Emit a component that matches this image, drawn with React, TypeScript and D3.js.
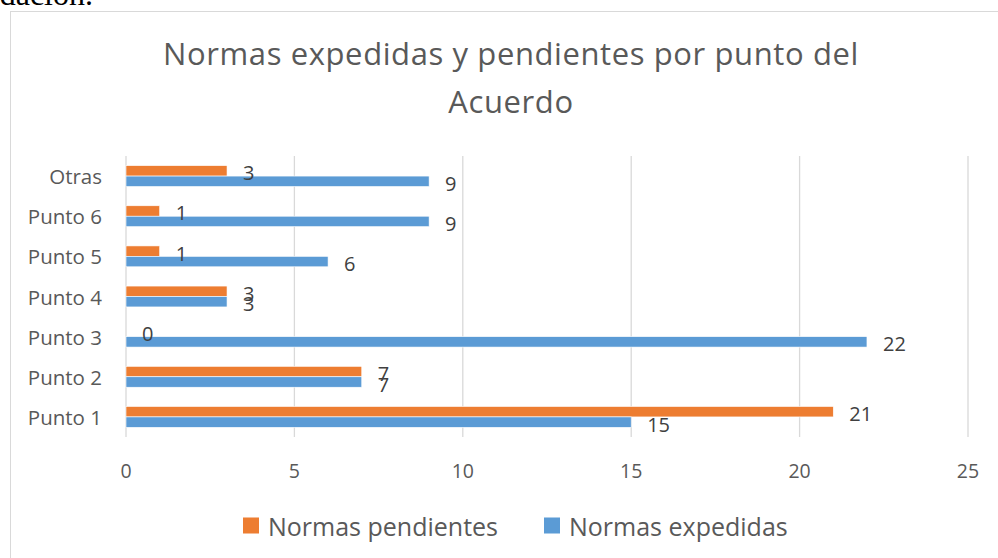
import React from "react";
import * as d3 from "d3";

const categories = ["Punto 1", "Punto 2", "Punto 3", "Punto 4", "Punto 5", "Punto 6", "Otras"];
const expedidas = [15, 7, 22, 3, 6, 9, 9];
const pendientes = [21, 7, 0, 3, 1, 1, 3];
const xTicks = [0, 5, 10, 15, 20, 25];
const seriesNames = ["Normas pendientes", "Normas expedidas"];
const titleLines = ["Normas expedidas y pendientes por punto del", "Acuerdo"];

const ORANGE = "#ED7D31";
const BLUE = "#5B9BD5";
const FONT = "'Open Sans', sans-serif";

export default function App() {
  const W = 998, H = 558;
  const x = d3.scaleLinear().domain([0, 25]).range([126, 968]);
  const y = d3
    .scaleBand<string>()
    .domain([...categories].reverse())
    .range([156, 437])
    .paddingInner(0.48)
    .paddingOuter(0.24);
  const sub = d3.scaleBand<string>().domain(["p", "e"]).range([0, y.bandwidth()]);
  const bh = sub.bandwidth();

  const marks = categories.flatMap((c, i) => [
    { c, key: "p", v: pendientes[i], color: ORANGE },
    { c, key: "e", v: expedidas[i], color: BLUE },
  ]);

  return (
    <svg width={W} height={H} style={{ position: "absolute", left: 0, top: 0, background: "#fff" }}>
      <text x={93} y={5} textAnchor="end" fontFamily="'Liberation Serif', serif" fontSize={32} fill="#000">
        dación.
      </text>
      <rect x={10.5} y={11.5} width={1000} height={600} fill="#fff" stroke="#D9D9D9" strokeWidth={1} />
      {titleLines.map((t, i) => (
        <text key={i} x={511} y={65 + i * 48} textAnchor="middle" fontFamily={FONT} fontSize={31} letterSpacing={0.6} fill="#595959">
          {t}
        </text>
      ))}
      {xTicks.map((t) => (
        <g key={t}>
          <line x1={x(t)} x2={x(t)} y1={156} y2={437} stroke="#D9D9D9" strokeWidth={1.3} />
          <text x={x(t)} y={470} textAnchor="middle" dominantBaseline="central" fontFamily={FONT} fontSize={19.5} fill="#595959">
            {t}
          </text>
        </g>
      ))}
      {categories.map((c) => (
        <text key={c} x={102} y={y(c)! + y.bandwidth() / 2} textAnchor="end" dominantBaseline="central" fontFamily={FONT} fontSize={20.5} fill="#595959">
          {c}
        </text>
      ))}
      {marks.map((m) => (
        <rect key={m.c + m.key} x={x(0)} y={y(m.c)! + sub(m.key)!} width={x(m.v) - x(0)} height={bh} fill={m.color} stroke="#fff" strokeWidth={0.6} />
      ))}
      {marks.map((m) => (
        <text key={"l" + m.c + m.key} x={x(m.v) + 16} y={y(m.c)! + sub(m.key)! + bh / 2 + 2} dominantBaseline="central" fontFamily={FONT} fontSize={20} fill="#404040">
          {m.v}
        </text>
      ))}
      {seriesNames.map((s, i) => {
        const lx = [243, 544][i];
        return (
          <g key={s}>
            <rect x={lx} y={517.5} width={16} height={16} fill={i === 0 ? ORANGE : BLUE} />
            <text x={lx + 25} y={525.5} dominantBaseline="central" fontFamily={FONT} fontSize={25} fill="#595959">
              {s}
            </text>
          </g>
        );
      })}
    </svg>
  );
}
